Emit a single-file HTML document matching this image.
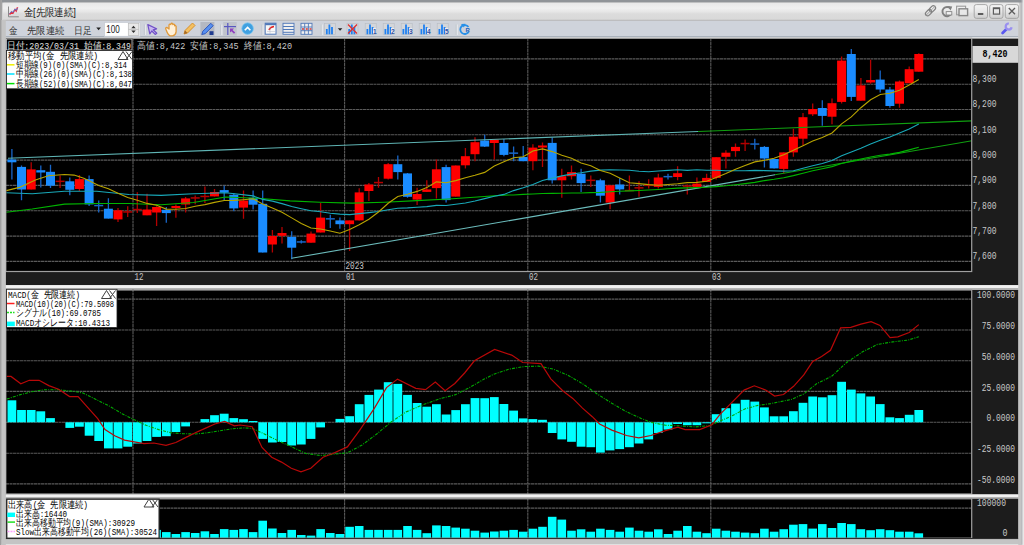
<!DOCTYPE html><html><head><meta charset="utf-8"><style>html,body{margin:0;padding:0;background:#c8c8c8;overflow:hidden}svg{display:block}</style></head><body>
<svg width="1024" height="545" viewBox="0 0 1024 545">
<defs><linearGradient id="tg" x1="0" y1="0" x2="0" y2="1"><stop offset="0" stop-color="#e8e8e8"/><stop offset="0.3" stop-color="#f0f0f0"/><stop offset="0.5" stop-color="#e6e6e6"/><stop offset="0.62" stop-color="#dcdcdc"/><stop offset="1" stop-color="#d8d8d8"/></linearGradient><linearGradient id="btn" x1="0" y1="0" x2="0" y2="1"><stop offset="0" stop-color="#f6f6f6"/><stop offset="0.5" stop-color="#e6e6e6"/><stop offset="1" stop-color="#cccccc"/></linearGradient><linearGradient id="sep" x1="0" y1="0" x2="0" y2="1"><stop offset="0" stop-color="#dcdcdc"/><stop offset="0.2" stop-color="#f2f2f2"/><stop offset="0.55" stop-color="#f0f0f0"/><stop offset="0.68" stop-color="#b4b4b4"/><stop offset="1" stop-color="#b0b0b0"/></linearGradient><clipPath id="mainclip"><rect x="6" y="38.5" width="965.5" height="232.5"/></clipPath><clipPath id="macdclip"><rect x="6" y="289" width="965.5" height="205"/></clipPath></defs>
<rect x="0" y="0" width="1024" height="545" fill="#c4c4c4"/>
<rect x="0" y="0" width="1024" height="2.5" fill="#909498"/>
<rect x="0" y="0" width="2" height="545" fill="#a8a8a8"/>
<rect x="2" y="2.5" width="1018" height="543" rx="2" fill="#d4d4d4"/>
<rect x="3" y="3" width="1016" height="17.5" fill="url(#tg)"/>
<line x1="3" y1="20.3" x2="1019" y2="20.3" stroke="#acacac" stroke-width="0.9"/>
<rect x="5.5" y="20.8" width="1013" height="16" fill="#cfd3db"/>
<rect x="5.5" y="36" width="1013" height="1.5" fill="#aab2bc"/>
<rect x="5.5" y="37.5" width="1013" height="1.1" fill="#f8f8f8"/>
<path d="M8.5,6.5 V16.8 H18.8" fill="none" stroke="#8a8a8a" stroke-width="1"/><polyline points="9.5,14.6 11.5,12.2 13,13 15,9.5 16.2,11 17.6,7.2" fill="none" stroke="#e83040" stroke-width="1.5"/><polyline points="9.5,13.6 11.5,11.4 13,12.4 15,9 16.4,10.2 17.6,8" fill="none" stroke="#4080e0" stroke-width="0.8"/><text x="23.5" y="15.8" font-family='"Liberation Sans", sans-serif' font-size="11" fill="#1a1a1a" textLength="52.5" lengthAdjust="spacingAndGlyphs">金[先限連続]</text><g transform="rotate(-45 930.5 10.8)" fill="none" stroke="#808080" stroke-width="1.2"><rect x="924.3" y="8.6" width="7" height="4.4" rx="2.2"/><rect x="929.7" y="8.6" width="7" height="4.4" rx="2.2"/></g><path d="M925.5,15.8 L935.5,5.8" stroke="#9a9a9a" stroke-width="0.9"/><path d="M950.6,8.6 A4.6,4.6 0 1 0 951.2,13.6" fill="none" stroke="#808080" stroke-width="1.9"/><path d="M947.6,6 l4.6,0.4 l-1.6,4 z" fill="#808080"/><rect x="946.2" y="11.6" width="5.6" height="3.4" fill="#f0f0f0" stroke="#888888" stroke-width="0.9"/><rect x="956.6" y="6.2" width="9" height="8.6" fill="none" stroke="#9a9a9a" stroke-width="1.1"/><rect x="959" y="8.8" width="8.6" height="6.8" fill="#e8e8e8" stroke="#888888" stroke-width="1.4"/><rect x="974.2" y="4.6" width="13.3" height="13.8" rx="2.2" fill="url(#btn)" stroke="#a0a0a0" stroke-width="0.9"/><rect x="989.7" y="4.6" width="13.3" height="13.8" rx="2.2" fill="url(#btn)" stroke="#a0a0a0" stroke-width="0.9"/><rect x="1005.3" y="4.6" width="13.3" height="13.8" rx="2.2" fill="url(#btn)" stroke="#a0a0a0" stroke-width="0.9"/><rect x="977.9" y="13" width="5.4" height="2" fill="#5c5c5c"/><rect x="993.4" y="7.9" width="6.2" height="6.2" fill="none" stroke="#5c5c5c" stroke-width="1.2"/><rect x="993.4" y="7.9" width="6.2" height="1.3" fill="#5c5c5c"/><path d="M1008.8,8 l6.2,6.2 M1015,8 l-6.2,6.2" stroke="#5c5c5c" stroke-width="1.3"/><text x="9" y="33.5" font-family='"Liberation Sans", sans-serif' font-size="10" fill="#303030" textLength="8.5" lengthAdjust="spacingAndGlyphs">金</text><text x="27" y="33.5" font-family='"Liberation Sans", sans-serif' font-size="10" fill="#303030" textLength="37" lengthAdjust="spacingAndGlyphs">先限連続</text><text x="74" y="33.5" font-family='"Liberation Sans", sans-serif' font-size="10" fill="#303030" textLength="17.5" lengthAdjust="spacingAndGlyphs">日足</text><path d="M96.3,27.6 h4.6 l-2.3,2.6 z" fill="#202020"/><rect x="104.5" y="22.5" width="35.5" height="13.8" fill="#ffffff" stroke="#c8ccd4" stroke-width="0.8"/><text x="106.3" y="33" font-family='"Liberation Sans", sans-serif' font-size="10.5" fill="#202020" textLength="13.5" lengthAdjust="spacingAndGlyphs">100</text><rect x="128.3" y="23.3" width="10.5" height="12.2" fill="#e8e8e8" stroke="#b8b8b8" stroke-width="0.7"/><line x1="128.3" y1="29.4" x2="138.8" y2="29.4" stroke="#b8b8b8" stroke-width="0.7"/><path d="M131.3,28.2 h4.4 l-2.2,-2.4 z M131.3,30.6 h4.4 l-2.2,2.4 z" fill="#303030"/><line x1="144.4" y1="24.5" x2="144.4" y2="35" stroke="#b8bcc4" stroke-width="0.8"/><line x1="145.3" y1="24.5" x2="145.3" y2="35" stroke="#f4f6f8" stroke-width="0.8"/><line x1="220.9" y1="24.5" x2="220.9" y2="35" stroke="#b8bcc4" stroke-width="0.8"/><line x1="221.8" y1="24.5" x2="221.8" y2="35" stroke="#f4f6f8" stroke-width="0.8"/><line x1="262.1" y1="24.5" x2="262.1" y2="35" stroke="#b8bcc4" stroke-width="0.8"/><line x1="263.0" y1="24.5" x2="263.0" y2="35" stroke="#f4f6f8" stroke-width="0.8"/><line x1="321.3" y1="24.5" x2="321.3" y2="35" stroke="#b8bcc4" stroke-width="0.8"/><line x1="322.2" y1="24.5" x2="322.2" y2="35" stroke="#f4f6f8" stroke-width="0.8"/><line x1="456.3" y1="24.5" x2="456.3" y2="35" stroke="#b8bcc4" stroke-width="0.8"/><line x1="457.2" y1="24.5" x2="457.2" y2="35" stroke="#f4f6f8" stroke-width="0.8"/><path d="M147.8,24.6 L156.6,28.8 L153.2,29.8 L156.8,33.2 L155.2,34.4 L151.8,31 L149.8,33.8 Z" fill="#c8b8f0" stroke="#7050c8" stroke-width="1.2" stroke-linejoin="round"/><path d="M166,29.5 q-1,-2 1,-2 l2,1.5 v-4 q0.5,-1.5 1.8,-0.5 v-0.5 q1,-1.5 2,0 v0.5 q1,-1 1.8,0.3 v1 q1,-0.8 1.5,0.5 v5.5 q-0.5,3.5 -3.5,4 h-2.5 q-2,-0.5 -4,-6 z" fill="#fff0d8" stroke="#e09838" stroke-width="1.3" stroke-linejoin="round"/><path d="M184,34 l1,-3.5 l7.5,-7.5 l2.5,2.5 l-7.5,7.5 z" fill="#f4c060" stroke="#d8902c" stroke-width="1"/><path d="M184,34 l1,-3.5 l2.5,2.5 z" fill="#a06828"/><rect x="200.4" y="22" width="14" height="13.6" fill="#b4b8c2"/><path d="M201.8,34.5 l1,-3.2 l8,-8 l2.4,2.4 l-8,8 z" fill="#5890f0" stroke="#2850b8" stroke-width="0.9"/><path d="M209.5,31.2 h4 v3.8 h-4 z" fill="#203c90"/><rect x="223.2" y="22" width="13.5" height="13.6" fill="#c0c4cc"/><line x1="227.8" y1="23" x2="227.8" y2="35" stroke="#5858c0" stroke-width="1.2"/><line x1="224" y1="26.6" x2="236" y2="26.6" stroke="#5858c0" stroke-width="1.2"/><path d="M230,28.6 h4 l-1.4,1.4 l2.6,2.6 l-1.2,1.2 l-2.6,-2.6 l-1.4,1.4 z" fill="#9040c0"/><circle cx="247.6" cy="28.6" r="5.8" fill="#40a0e0" stroke="#80c8f0" stroke-width="0.8"/><path d="M244.8,30.2 l2.8,-2.8 l2.8,2.8" fill="none" stroke="#ffffff" stroke-width="1.6"/><rect x="265.2" y="23.2" width="10.8" height="11" fill="#f8f8f8" stroke="#5078b8" stroke-width="1"/><rect x="265.2" y="23.2" width="10.8" height="2" fill="#5078b8"/><path d="M269,30 q1,-3 5,-3.5" fill="none" stroke="#e02020" stroke-width="1.5"/><g stroke="#b0b8c8" stroke-width="0.5"><line x1="267" y1="31.5" x2="275" y2="31.5"/><line x1="270" y1="26" x2="270" y2="34"/></g><rect x="283" y="23.3" width="11" height="11" fill="#f0f0f0" stroke="#5078b8" stroke-width="0.9"/><g stroke="#5078b8" stroke-width="1"><line x1="283" y1="26.5" x2="294" y2="26.5"/><line x1="283" y1="29.5" x2="294" y2="29.5"/><line x1="283" y1="32.3" x2="294" y2="32.3"/></g><rect x="301" y="23.3" width="11" height="11" fill="#f0f0f0" stroke="#5078b8" stroke-width="0.9"/><g stroke="#5078b8" stroke-width="0.9"><line x1="301" y1="27" x2="312" y2="27"/><line x1="301" y1="30.7" x2="312" y2="30.7"/><line x1="304.7" y1="23.3" x2="304.7" y2="34.3"/><line x1="308.4" y1="23.3" x2="308.4" y2="34.3"/></g><g fill="#d04040"><rect x="302" y="28.2" width="2" height="1.6"/><rect x="305.8" y="28.2" width="2" height="1.6"/><rect x="309.5" y="28.2" width="2" height="1.6"/></g><rect x="324.6" y="23.3" width="11" height="11.2" fill="#d4d6da" stroke="#b8bcc4" stroke-width="0.6"/><g fill="#2080f0"><rect x="325.9" y="29" width="1.8" height="5.3"/><rect x="328.5" y="24.5" width="1.8" height="9.8"/><rect x="331.1" y="27" width="1.8" height="7.3"/></g><path d="M337.8,28.2 h4.6 l-2.3,2.6 z" fill="#202020"/><rect x="347.0" y="23.3" width="11" height="11.2" fill="#d4d6da" stroke="#b8bcc4" stroke-width="0.6"/><g fill="#2080f0"><rect x="348.3" y="29" width="1.8" height="5.3"/><rect x="350.9" y="24.5" width="1.8" height="9.8"/><rect x="353.5" y="27" width="1.8" height="7.3"/></g><path d="M348.0,24.5 l9,9 M357.0,24.5 l-9,9" stroke="#e03030" stroke-width="1.3"/><rect x="365.2" y="23.3" width="11" height="11.2" fill="#d4d6da" stroke="#b8bcc4" stroke-width="0.6"/><g fill="#2080f0"><rect x="366.5" y="29" width="1.8" height="5.3"/><rect x="369.1" y="24.5" width="1.8" height="9.8"/><rect x="371.7" y="27" width="1.8" height="7.3"/></g><rect x="373.0" y="28" width="3.2" height="6" fill="#e8ecf4"/><text x="373.1" y="33.6" font-family='"Liberation Sans", sans-serif' font-size="6.5" font-weight="bold" fill="#3050a0">1</text><rect x="383.2" y="23.3" width="11" height="11.2" fill="#d4d6da" stroke="#b8bcc4" stroke-width="0.6"/><g fill="#2080f0"><rect x="384.5" y="29" width="1.8" height="5.3"/><rect x="387.1" y="24.5" width="1.8" height="9.8"/><rect x="389.7" y="27" width="1.8" height="7.3"/></g><rect x="391.0" y="28" width="3.2" height="6" fill="#e8ecf4"/><text x="391.1" y="33.6" font-family='"Liberation Sans", sans-serif' font-size="6.5" font-weight="bold" fill="#3050a0">2</text><rect x="401.2" y="23.3" width="11" height="11.2" fill="#d4d6da" stroke="#b8bcc4" stroke-width="0.6"/><g fill="#2080f0"><rect x="402.5" y="29" width="1.8" height="5.3"/><rect x="405.1" y="24.5" width="1.8" height="9.8"/><rect x="407.7" y="27" width="1.8" height="7.3"/></g><rect x="409.0" y="28" width="3.2" height="6" fill="#e8ecf4"/><text x="409.1" y="33.6" font-family='"Liberation Sans", sans-serif' font-size="6.5" font-weight="bold" fill="#3050a0">3</text><rect x="419.2" y="23.3" width="11" height="11.2" fill="#d4d6da" stroke="#b8bcc4" stroke-width="0.6"/><g fill="#2080f0"><rect x="420.5" y="29" width="1.8" height="5.3"/><rect x="423.1" y="24.5" width="1.8" height="9.8"/><rect x="425.7" y="27" width="1.8" height="7.3"/></g><rect x="427.0" y="28" width="3.2" height="6" fill="#e8ecf4"/><text x="427.1" y="33.6" font-family='"Liberation Sans", sans-serif' font-size="6.5" font-weight="bold" fill="#3050a0">4</text><rect x="437.2" y="23.3" width="11" height="11.2" fill="#d4d6da" stroke="#b8bcc4" stroke-width="0.6"/><g fill="#2080f0"><rect x="438.5" y="29" width="1.8" height="5.3"/><rect x="441.1" y="24.5" width="1.8" height="9.8"/><rect x="443.7" y="27" width="1.8" height="7.3"/></g><rect x="445.0" y="28" width="3.2" height="6" fill="#e8ecf4"/><text x="445.1" y="33.6" font-family='"Liberation Sans", sans-serif' font-size="6.5" font-weight="bold" fill="#3050a0">5</text><path d="M468.5,27 A4.5,4.5 0 1 0 468.8,31.5" fill="none" stroke="#2890e8" stroke-width="1.8"/><path d="M461,24 l4.5,-0.3 l-1.6,3.8 z" fill="#2890e8"/><text x="465.5" y="32" font-family='"Liberation Sans", sans-serif' font-size="6" font-weight="bold" fill="#2060c0">R</text><path d="M1002.6,33 L1006.6,29" stroke="#5a58f0" stroke-width="2.8" stroke-linecap="round"/><path d="M1011.6,27.2 A3,3 0 1 1 1008.9,23.5" fill="none" stroke="#9a90f0" stroke-width="2.2"/><circle cx="1008.5" cy="26.8" r="1.2" fill="#d8d4f8"/>
<rect x="5.5" y="38.6" width="1013" height="246.4" fill="#1c1c1c"/>
<rect x="6" y="38.6" width="965.5" height="232.4" fill="#000"/>
<line x1="6" y1="58.9" x2="971" y2="58.9" stroke="#5a5a5a" stroke-width="1.1" stroke-dasharray="3,0.5"/>
<line x1="6" y1="84.2" x2="971" y2="84.2" stroke="#5a5a5a" stroke-width="1.1" stroke-dasharray="3,0.5"/>
<line x1="6" y1="109.5" x2="971" y2="109.5" stroke="#5a5a5a" stroke-width="1.1" stroke-dasharray="3,0.5"/>
<line x1="6" y1="134.8" x2="971" y2="134.8" stroke="#5a5a5a" stroke-width="1.1" stroke-dasharray="3,0.5"/>
<line x1="6" y1="160.1" x2="971" y2="160.1" stroke="#5a5a5a" stroke-width="1.1" stroke-dasharray="3,0.5"/>
<line x1="6" y1="185.4" x2="971" y2="185.4" stroke="#5a5a5a" stroke-width="1.1" stroke-dasharray="3,0.5"/>
<line x1="6" y1="210.7" x2="971" y2="210.7" stroke="#5a5a5a" stroke-width="1.1" stroke-dasharray="3,0.5"/>
<line x1="6" y1="236.1" x2="971" y2="236.1" stroke="#5a5a5a" stroke-width="1.1" stroke-dasharray="3,0.5"/>
<line x1="6" y1="261.4" x2="971" y2="261.4" stroke="#5a5a5a" stroke-width="1.1" stroke-dasharray="3,0.5"/>
<line x1="133.0" y1="38.5" x2="133.0" y2="271" stroke="#5a5a5a" stroke-width="1.1" stroke-dasharray="3,0.5"/>
<line x1="344.6" y1="38.5" x2="344.6" y2="271" stroke="#5a5a5a" stroke-width="1.1" stroke-dasharray="3,0.5"/>
<line x1="527.8" y1="38.5" x2="527.8" y2="271" stroke="#5a5a5a" stroke-width="1.1" stroke-dasharray="3,0.5"/>
<line x1="710.8" y1="38.5" x2="710.8" y2="271" stroke="#5a5a5a" stroke-width="1.1" stroke-dasharray="3,0.5"/>
<g clip-path="url(#mainclip)">
<line x1="11.9" y1="149.0" x2="11.9" y2="179.6" stroke="#1866c8" stroke-width="1.3"/>
<rect x="7.4" y="159.5" width="9.0" height="2.8" fill="#1a8cff"/>
<line x1="21.5" y1="165.6" x2="21.5" y2="200.2" stroke="#1866c8" stroke-width="1.3"/>
<rect x="17.0" y="166.9" width="9.0" height="22.6" fill="#1a8cff"/>
<line x1="31.2" y1="162.3" x2="31.2" y2="189.5" stroke="#b40000" stroke-width="1.3"/>
<rect x="26.7" y="169.4" width="9.0" height="20.1" fill="#ff0000"/>
<line x1="40.8" y1="165.6" x2="40.8" y2="187.5" stroke="#1866c8" stroke-width="1.3"/>
<rect x="36.3" y="170.2" width="9.0" height="2.3" fill="#1a8cff"/>
<line x1="50.5" y1="164.8" x2="50.5" y2="187.9" stroke="#1866c8" stroke-width="1.3"/>
<rect x="46.0" y="171.8" width="9.0" height="13.9" fill="#1a8cff"/>
<line x1="60.1" y1="175.5" x2="60.1" y2="187.9" stroke="#b40000" stroke-width="1.3"/>
<rect x="55.6" y="180.6" width="9.0" height="1.5" fill="#b40000"/>
<line x1="69.8" y1="177.6" x2="69.8" y2="195.3" stroke="#1866c8" stroke-width="1.3"/>
<rect x="65.3" y="181.3" width="9.0" height="8.5" fill="#1a8cff"/>
<line x1="79.4" y1="175.0" x2="79.4" y2="191.0" stroke="#b40000" stroke-width="1.3"/>
<rect x="74.9" y="179.1" width="9.0" height="9.9" fill="#ff0000"/>
<line x1="89.1" y1="175.5" x2="89.1" y2="206.0" stroke="#1866c8" stroke-width="1.3"/>
<rect x="84.6" y="179.1" width="9.0" height="25.3" fill="#1a8cff"/>
<line x1="98.7" y1="200.4" x2="98.7" y2="212.5" stroke="#1866c8" stroke-width="1.3"/>
<rect x="94.2" y="204.8" width="9.0" height="1.5" fill="#1866c8"/>
<line x1="108.4" y1="198.3" x2="108.4" y2="218.6" stroke="#1866c8" stroke-width="1.3"/>
<rect x="103.9" y="208.7" width="9.0" height="9.9" fill="#1a8cff"/>
<line x1="118.0" y1="207.9" x2="118.0" y2="221.9" stroke="#b40000" stroke-width="1.3"/>
<rect x="113.5" y="210.3" width="9.0" height="9.1" fill="#ff0000"/>
<line x1="127.7" y1="206.2" x2="127.7" y2="217.0" stroke="#b40000" stroke-width="1.3"/>
<rect x="123.2" y="211.2" width="9.0" height="1.5" fill="#b40000"/>
<line x1="137.3" y1="192.2" x2="137.3" y2="213.1" stroke="#b40000" stroke-width="1.3"/>
<rect x="132.8" y="208.8" width="9.0" height="1.5" fill="#b40000"/>
<line x1="147.0" y1="193.8" x2="147.0" y2="215.3" stroke="#b40000" stroke-width="1.3"/>
<rect x="142.5" y="209.5" width="9.0" height="5.8" fill="#ff0000"/>
<line x1="156.6" y1="206.2" x2="156.6" y2="226.0" stroke="#b40000" stroke-width="1.3"/>
<rect x="152.1" y="207.0" width="9.0" height="5.5" fill="#ff0000"/>
<line x1="166.3" y1="207.0" x2="166.3" y2="222.7" stroke="#1866c8" stroke-width="1.3"/>
<rect x="161.8" y="209.8" width="9.0" height="3.3" fill="#1a8cff"/>
<line x1="175.9" y1="204.6" x2="175.9" y2="217.8" stroke="#b40000" stroke-width="1.3"/>
<rect x="171.4" y="206.0" width="9.0" height="2.0" fill="#ff0000"/>
<line x1="185.6" y1="197.1" x2="185.6" y2="212.5" stroke="#b40000" stroke-width="1.3"/>
<rect x="181.1" y="198.4" width="9.0" height="6.1" fill="#ff0000"/>
<line x1="195.2" y1="195.6" x2="195.2" y2="204.3" stroke="#b40000" stroke-width="1.3"/>
<rect x="190.7" y="197.2" width="9.0" height="1.5" fill="#b40000"/>
<line x1="204.9" y1="186.5" x2="204.9" y2="203.0" stroke="#b40000" stroke-width="1.3"/>
<rect x="200.4" y="195.7" width="9.0" height="1.5" fill="#b40000"/>
<line x1="214.5" y1="189.0" x2="214.5" y2="196.4" stroke="#b40000" stroke-width="1.3"/>
<rect x="210.0" y="192.0" width="9.0" height="4.4" fill="#ff0000"/>
<line x1="224.2" y1="185.7" x2="224.2" y2="200.5" stroke="#1866c8" stroke-width="1.3"/>
<rect x="219.7" y="190.1" width="9.0" height="2.5" fill="#1a8cff"/>
<line x1="233.8" y1="193.1" x2="233.8" y2="211.3" stroke="#1866c8" stroke-width="1.3"/>
<rect x="229.3" y="194.8" width="9.0" height="13.6" fill="#1a8cff"/>
<line x1="243.5" y1="190.6" x2="243.5" y2="218.7" stroke="#b40000" stroke-width="1.3"/>
<rect x="239.0" y="200.5" width="9.0" height="7.1" fill="#ff0000"/>
<line x1="253.1" y1="190.6" x2="253.1" y2="209.6" stroke="#1866c8" stroke-width="1.3"/>
<rect x="248.6" y="197.7" width="9.0" height="7.0" fill="#1a8cff"/>
<line x1="262.7" y1="190.6" x2="262.7" y2="252.5" stroke="#1866c8" stroke-width="1.3"/>
<rect x="258.2" y="203.8" width="9.0" height="48.7" fill="#1a8cff"/>
<line x1="272.4" y1="230.0" x2="272.4" y2="252.5" stroke="#b40000" stroke-width="1.3"/>
<rect x="267.9" y="236.0" width="9.0" height="8.5" fill="#ff0000"/>
<line x1="282.0" y1="227.0" x2="282.0" y2="243.5" stroke="#b40000" stroke-width="1.3"/>
<rect x="277.5" y="233.0" width="9.0" height="2.8" fill="#ff0000"/>
<line x1="291.7" y1="231.2" x2="291.7" y2="259.2" stroke="#1866c8" stroke-width="1.3"/>
<rect x="287.2" y="236.9" width="9.0" height="10.8" fill="#1a8cff"/>
<line x1="301.3" y1="240.2" x2="301.3" y2="243.5" stroke="#1866c8" stroke-width="1.3"/>
<rect x="296.8" y="241.2" width="9.0" height="1.5" fill="#1866c8"/>
<line x1="311.0" y1="231.5" x2="311.0" y2="242.7" stroke="#b40000" stroke-width="1.3"/>
<rect x="306.5" y="233.6" width="9.0" height="9.1" fill="#ff0000"/>
<line x1="320.6" y1="203.1" x2="320.6" y2="232.5" stroke="#b40000" stroke-width="1.3"/>
<rect x="316.1" y="217.6" width="9.0" height="14.9" fill="#ff0000"/>
<line x1="330.3" y1="214.7" x2="330.3" y2="227.9" stroke="#1866c8" stroke-width="1.3"/>
<rect x="325.8" y="218.1" width="9.0" height="1.5" fill="#1866c8"/>
<line x1="339.9" y1="217.6" x2="339.9" y2="228.7" stroke="#1866c8" stroke-width="1.3"/>
<rect x="335.4" y="220.4" width="9.0" height="3.8" fill="#1a8cff"/>
<line x1="349.6" y1="220.4" x2="349.6" y2="251.0" stroke="#b40000" stroke-width="1.3"/>
<rect x="345.1" y="220.4" width="9.0" height="3.8" fill="#ff0000"/>
<line x1="359.2" y1="188.3" x2="359.2" y2="220.4" stroke="#b40000" stroke-width="1.3"/>
<rect x="354.7" y="192.4" width="9.0" height="28.0" fill="#ff0000"/>
<line x1="368.9" y1="183.1" x2="368.9" y2="201.0" stroke="#b40000" stroke-width="1.3"/>
<rect x="364.4" y="184.5" width="9.0" height="6.5" fill="#ff0000"/>
<line x1="378.5" y1="177.0" x2="378.5" y2="187.8" stroke="#b40000" stroke-width="1.3"/>
<rect x="374.0" y="181.8" width="9.0" height="1.5" fill="#b40000"/>
<line x1="388.2" y1="163.0" x2="388.2" y2="179.5" stroke="#b40000" stroke-width="1.3"/>
<rect x="383.7" y="164.2" width="9.0" height="14.5" fill="#ff0000"/>
<line x1="397.8" y1="155.6" x2="397.8" y2="179.5" stroke="#1866c8" stroke-width="1.3"/>
<rect x="393.3" y="164.2" width="9.0" height="7.9" fill="#1a8cff"/>
<line x1="407.5" y1="172.9" x2="407.5" y2="197.7" stroke="#1866c8" stroke-width="1.3"/>
<rect x="403.0" y="173.4" width="9.0" height="23.4" fill="#1a8cff"/>
<line x1="417.1" y1="187.8" x2="417.1" y2="205.1" stroke="#b40000" stroke-width="1.3"/>
<rect x="412.6" y="194.0" width="9.0" height="5.6" fill="#ff0000"/>
<line x1="426.8" y1="180.3" x2="426.8" y2="191.9" stroke="#b40000" stroke-width="1.3"/>
<rect x="422.3" y="189.4" width="9.0" height="2.5" fill="#ff0000"/>
<line x1="436.4" y1="159.4" x2="436.4" y2="198.5" stroke="#b40000" stroke-width="1.3"/>
<rect x="431.9" y="169.3" width="9.0" height="18.8" fill="#ff0000"/>
<line x1="446.1" y1="164.7" x2="446.1" y2="202.6" stroke="#1866c8" stroke-width="1.3"/>
<rect x="441.6" y="167.1" width="9.0" height="33.0" fill="#1a8cff"/>
<line x1="455.7" y1="165.5" x2="455.7" y2="196.6" stroke="#b40000" stroke-width="1.3"/>
<rect x="451.2" y="165.5" width="9.0" height="31.1" fill="#ff0000"/>
<line x1="465.4" y1="148.0" x2="465.4" y2="168.6" stroke="#b40000" stroke-width="1.3"/>
<rect x="460.9" y="156.2" width="9.0" height="9.1" fill="#ff0000"/>
<line x1="475.0" y1="137.2" x2="475.0" y2="161.2" stroke="#b40000" stroke-width="1.3"/>
<rect x="470.5" y="142.2" width="9.0" height="12.0" fill="#ff0000"/>
<line x1="484.7" y1="134.8" x2="484.7" y2="147.1" stroke="#1866c8" stroke-width="1.3"/>
<rect x="480.2" y="140.5" width="9.0" height="6.1" fill="#1a8cff"/>
<line x1="494.3" y1="139.7" x2="494.3" y2="159.5" stroke="#b40000" stroke-width="1.3"/>
<rect x="489.8" y="139.7" width="9.0" height="3.3" fill="#ff0000"/>
<line x1="503.9" y1="138.9" x2="503.9" y2="156.2" stroke="#1866c8" stroke-width="1.3"/>
<rect x="499.4" y="143.0" width="9.0" height="11.9" fill="#1a8cff"/>
<line x1="513.6" y1="146.6" x2="513.6" y2="161.2" stroke="#1866c8" stroke-width="1.3"/>
<rect x="509.1" y="152.4" width="9.0" height="1.5" fill="#1866c8"/>
<line x1="523.2" y1="146.0" x2="523.2" y2="161.2" stroke="#1866c8" stroke-width="1.3"/>
<rect x="518.7" y="157.0" width="9.0" height="4.2" fill="#1a8cff"/>
<line x1="532.9" y1="144.3" x2="532.9" y2="170.2" stroke="#b40000" stroke-width="1.3"/>
<rect x="528.4" y="147.6" width="9.0" height="13.6" fill="#ff0000"/>
<line x1="542.5" y1="142.4" x2="542.5" y2="167.1" stroke="#b40000" stroke-width="1.3"/>
<rect x="538.0" y="145.5" width="9.0" height="2.0" fill="#ff0000"/>
<line x1="552.2" y1="137.4" x2="552.2" y2="183.6" stroke="#1866c8" stroke-width="1.3"/>
<rect x="547.7" y="142.9" width="9.0" height="37.4" fill="#1a8cff"/>
<line x1="561.8" y1="168.8" x2="561.8" y2="197.7" stroke="#b40000" stroke-width="1.3"/>
<rect x="557.3" y="176.2" width="9.0" height="4.1" fill="#ff0000"/>
<line x1="571.5" y1="165.5" x2="571.5" y2="179.5" stroke="#b40000" stroke-width="1.3"/>
<rect x="567.0" y="172.1" width="9.0" height="4.1" fill="#ff0000"/>
<line x1="581.1" y1="168.8" x2="581.1" y2="191.9" stroke="#1866c8" stroke-width="1.3"/>
<rect x="576.6" y="173.7" width="9.0" height="9.4" fill="#1a8cff"/>
<line x1="590.8" y1="175.4" x2="590.8" y2="186.9" stroke="#b40000" stroke-width="1.3"/>
<rect x="586.3" y="179.6" width="9.0" height="1.5" fill="#b40000"/>
<line x1="600.4" y1="178.7" x2="600.4" y2="202.6" stroke="#1866c8" stroke-width="1.3"/>
<rect x="595.9" y="180.3" width="9.0" height="15.4" fill="#1a8cff"/>
<line x1="610.1" y1="185.3" x2="610.1" y2="209.2" stroke="#b40000" stroke-width="1.3"/>
<rect x="605.6" y="185.3" width="9.0" height="17.3" fill="#ff0000"/>
<line x1="619.7" y1="177.9" x2="619.7" y2="194.4" stroke="#1866c8" stroke-width="1.3"/>
<rect x="615.2" y="184.5" width="9.0" height="4.9" fill="#1a8cff"/>
<line x1="629.4" y1="175.4" x2="629.4" y2="190.7" stroke="#b40000" stroke-width="1.3"/>
<rect x="624.9" y="189.8" width="9.0" height="1.5" fill="#b40000"/>
<line x1="639.0" y1="181.2" x2="639.0" y2="196.8" stroke="#b40000" stroke-width="1.3"/>
<rect x="634.5" y="187.1" width="9.0" height="1.5" fill="#b40000"/>
<line x1="648.7" y1="179.2" x2="648.7" y2="188.6" stroke="#b40000" stroke-width="1.3"/>
<rect x="644.2" y="184.6" width="9.0" height="1.5" fill="#b40000"/>
<line x1="658.3" y1="173.7" x2="658.3" y2="188.6" stroke="#b40000" stroke-width="1.3"/>
<rect x="653.8" y="177.5" width="9.0" height="9.4" fill="#ff0000"/>
<line x1="668.0" y1="173.7" x2="668.0" y2="179.5" stroke="#1866c8" stroke-width="1.3"/>
<rect x="663.5" y="175.9" width="9.0" height="1.5" fill="#1866c8"/>
<line x1="677.6" y1="166.3" x2="677.6" y2="180.3" stroke="#b40000" stroke-width="1.3"/>
<rect x="673.1" y="173.2" width="9.0" height="3.8" fill="#ff0000"/>
<line x1="687.3" y1="184.5" x2="687.3" y2="194.4" stroke="#b40000" stroke-width="1.3"/>
<rect x="682.8" y="185.3" width="9.0" height="1.5" fill="#b40000"/>
<line x1="696.9" y1="177.5" x2="696.9" y2="186.9" stroke="#b40000" stroke-width="1.3"/>
<rect x="692.4" y="183.6" width="9.0" height="3.3" fill="#ff0000"/>
<line x1="706.6" y1="173.7" x2="706.6" y2="182.0" stroke="#b40000" stroke-width="1.3"/>
<rect x="702.1" y="177.9" width="9.0" height="4.1" fill="#ff0000"/>
<line x1="716.2" y1="157.2" x2="716.2" y2="179.5" stroke="#b40000" stroke-width="1.3"/>
<rect x="711.7" y="157.2" width="9.0" height="20.7" fill="#ff0000"/>
<line x1="725.9" y1="150.2" x2="725.9" y2="168.4" stroke="#b40000" stroke-width="1.3"/>
<rect x="721.4" y="152.7" width="9.0" height="4.1" fill="#ff0000"/>
<line x1="735.5" y1="143.6" x2="735.5" y2="156.8" stroke="#b40000" stroke-width="1.3"/>
<rect x="731.0" y="146.9" width="9.0" height="4.2" fill="#ff0000"/>
<line x1="745.1" y1="139.5" x2="745.1" y2="151.1" stroke="#b40000" stroke-width="1.3"/>
<rect x="740.6" y="142.8" width="9.0" height="1.5" fill="#b40000"/>
<line x1="754.8" y1="138.7" x2="754.8" y2="149.4" stroke="#1866c8" stroke-width="1.3"/>
<rect x="750.3" y="143.3" width="9.0" height="1.5" fill="#1866c8"/>
<line x1="764.4" y1="146.1" x2="764.4" y2="167.6" stroke="#1866c8" stroke-width="1.3"/>
<rect x="759.9" y="146.9" width="9.0" height="11.6" fill="#1a8cff"/>
<line x1="774.1" y1="159.0" x2="774.1" y2="168.4" stroke="#1866c8" stroke-width="1.3"/>
<rect x="769.6" y="159.0" width="9.0" height="9.4" fill="#1a8cff"/>
<line x1="783.7" y1="152.4" x2="783.7" y2="173.3" stroke="#b40000" stroke-width="1.3"/>
<rect x="779.2" y="152.4" width="9.0" height="16.5" fill="#ff0000"/>
<line x1="793.4" y1="128.8" x2="793.4" y2="156.8" stroke="#b40000" stroke-width="1.3"/>
<rect x="788.9" y="136.7" width="9.0" height="15.7" fill="#ff0000"/>
<line x1="803.0" y1="113.1" x2="803.0" y2="145.3" stroke="#b40000" stroke-width="1.3"/>
<rect x="798.5" y="117.2" width="9.0" height="21.5" fill="#ff0000"/>
<line x1="812.7" y1="103.5" x2="812.7" y2="115.9" stroke="#b40000" stroke-width="1.3"/>
<rect x="808.2" y="109.0" width="9.0" height="5.3" fill="#ff0000"/>
<line x1="822.3" y1="100.2" x2="822.3" y2="125.8" stroke="#1866c8" stroke-width="1.3"/>
<rect x="817.8" y="108.0" width="9.0" height="7.9" fill="#1a8cff"/>
<line x1="832.0" y1="98.6" x2="832.0" y2="124.2" stroke="#b40000" stroke-width="1.3"/>
<rect x="827.5" y="103.2" width="9.0" height="13.5" fill="#ff0000"/>
<line x1="841.6" y1="56.5" x2="841.6" y2="103.5" stroke="#b40000" stroke-width="1.3"/>
<rect x="837.1" y="60.6" width="9.0" height="41.3" fill="#ff0000"/>
<line x1="851.3" y1="49.1" x2="851.3" y2="101.1" stroke="#1866c8" stroke-width="1.3"/>
<rect x="846.8" y="54.0" width="9.0" height="42.9" fill="#1a8cff"/>
<line x1="860.9" y1="78.0" x2="860.9" y2="100.7" stroke="#b40000" stroke-width="1.3"/>
<rect x="856.4" y="85.4" width="9.0" height="15.3" fill="#ff0000"/>
<line x1="870.6" y1="59.8" x2="870.6" y2="83.7" stroke="#b40000" stroke-width="1.3"/>
<rect x="866.1" y="80.0" width="9.0" height="2.5" fill="#ff0000"/>
<line x1="880.2" y1="70.5" x2="880.2" y2="92.5" stroke="#1866c8" stroke-width="1.3"/>
<rect x="875.7" y="79.6" width="9.0" height="9.9" fill="#1a8cff"/>
<line x1="889.9" y1="87.0" x2="889.9" y2="107.7" stroke="#1866c8" stroke-width="1.3"/>
<rect x="885.4" y="89.5" width="9.0" height="16.5" fill="#1a8cff"/>
<line x1="899.5" y1="80.4" x2="899.5" y2="107.7" stroke="#b40000" stroke-width="1.3"/>
<rect x="895.0" y="81.5" width="9.0" height="22.2" fill="#ff0000"/>
<line x1="909.2" y1="66.4" x2="909.2" y2="83.2" stroke="#b40000" stroke-width="1.3"/>
<rect x="904.7" y="69.2" width="9.0" height="14.0" fill="#ff0000"/>
<line x1="918.8" y1="53.2" x2="918.8" y2="71.7" stroke="#b40000" stroke-width="1.3"/>
<rect x="914.3" y="54.0" width="9.0" height="17.7" fill="#ff0000"/>
<polyline points="8,158.2 698,131.5" fill="none" stroke="#5fb4b4" stroke-width="1.1"/>
<polyline points="698,131.5 972,120.9" fill="none" stroke="#10a010" stroke-width="1.1"/>
<polyline points="291.5,258.3 775,174.7" fill="none" stroke="#6cbcbc" stroke-width="1.1"/>
<polyline points="775,174.7 972,140.7" fill="none" stroke="#10a010" stroke-width="1.1"/>
<polyline points="6.4,212.2 32.2,209.0 64.5,204.1 96.7,203.5 128.9,203.5 161.1,204.8 193.4,202.5 225.6,197.0 257.8,198.3 290.0,200.9 320.0,202.2 352.2,203.1 384.5,202.2 416.7,200.6 448.9,199.0 481.1,196.7 503.9,195.1 513.6,195.0 523.2,194.4 532.9,194.0 542.5,193.5 552.2,193.4 561.8,193.3 571.5,193.0 581.1,193.0 590.8,192.6 600.4,192.4 610.1,191.7 619.7,191.3 629.4,190.9 639.0,190.5 648.7,190.0 658.3,189.5 668.0,188.8 677.6,188.1 687.3,187.9 696.9,187.6 706.6,187.3 716.2,186.6 725.9,185.8 735.5,184.7 745.1,183.6 754.8,182.4 764.4,180.6 774.1,179.3 783.7,177.7 793.4,175.6 803.0,173.2 812.7,170.8 822.3,168.8 832.0,166.6 841.6,163.5 851.3,161.1 860.9,159.0 870.6,157.0 880.2,155.3 889.9,154.1 899.5,152.4 909.2,149.9 918.8,147.2" fill="none" stroke="#00b400" stroke-width="1.1"/>
<polyline points="6.4,192.8 32.2,193.8 64.5,191.2 96.7,191.2 128.9,194.5 161.1,195.4 193.4,193.8 225.6,192.8 253.1,195.9 262.7,199.4 272.4,201.1 282.0,203.6 291.7,206.5 301.3,208.7 311.0,210.7 320.6,211.8 330.3,213.3 339.9,214.1 349.6,214.6 359.2,213.6 368.9,212.6 378.5,211.5 388.2,209.8 397.8,208.3 407.5,207.9 417.1,207.2 426.8,206.6 436.4,205.4 446.1,205.5 455.7,204.3 465.4,203.0 475.0,201.0 484.7,198.6 494.3,196.3 503.9,194.4 513.6,190.6 523.2,187.7 532.9,184.4 542.5,180.5 552.2,178.1 561.8,175.9 571.5,174.1 581.1,172.8 590.8,171.1 600.4,170.1 610.1,169.8 619.7,170.0 629.4,170.3 639.0,171.3 648.7,171.8 658.3,171.0 668.0,170.4 677.6,169.7 687.3,170.4 696.9,169.7 706.6,170.2 716.2,170.3 725.9,170.7 735.5,170.7 745.1,170.8 754.8,170.4 764.4,170.6 774.1,170.9 783.7,171.1 793.4,170.7 803.0,168.3 812.7,165.7 822.3,163.5 832.0,160.5 841.6,155.8 851.3,152.0 860.9,148.2 870.6,144.0 880.2,140.2 889.9,137.0 899.5,133.0 909.2,128.9 918.8,124.1" fill="none" stroke="#18a8b8" stroke-width="1.1"/>
<polyline points="6.4,190.6 19.3,187.4 35.4,180.0 48.3,175.8 64.5,174.5 74.1,175.1 83.8,178.3 89.1,180.7 98.7,185.5 108.4,188.7 118.0,193.2 127.7,197.6 137.3,200.3 147.0,203.4 156.6,205.3 166.3,209.1 175.9,209.3 185.6,208.5 195.2,206.2 204.9,204.6 214.5,202.4 224.2,200.5 233.8,200.4 243.5,199.7 253.1,198.8 262.7,203.9 272.4,208.1 282.0,212.2 291.7,217.9 301.3,223.4 311.0,228.0 320.6,229.0 330.3,231.0 339.9,233.2 349.6,229.6 359.2,224.8 368.9,219.2 378.5,212.0 388.2,203.3 397.8,196.5 407.5,194.2 417.1,191.4 426.8,187.6 436.4,181.9 446.1,182.8 455.7,180.6 465.4,177.7 475.0,175.3 484.7,172.4 494.3,166.1 503.9,161.8 513.6,157.7 523.2,156.8 532.9,151.0 542.5,148.9 552.2,151.6 561.8,155.3 571.5,158.2 581.1,163.0 590.8,165.8 600.4,170.5 610.1,173.2 619.7,177.9 629.4,182.8 639.0,183.6 648.7,184.6 658.3,185.2 668.0,184.5 677.6,183.7 687.3,182.6 696.9,182.4 706.6,181.2 716.2,177.5 725.9,173.6 735.5,169.3 745.1,165.5 754.8,161.9 764.4,160.3 774.1,158.3 783.7,154.8 793.4,150.3 803.0,145.8 812.7,141.0 822.3,137.5 832.0,133.0 841.6,123.8 851.3,116.9 860.9,107.7 870.6,99.8 880.2,94.5 889.9,93.3 899.5,90.2 909.2,85.0 918.8,79.6" fill="none" stroke="#b8a400" stroke-width="1.1"/>
</g>
<rect x="5.8" y="38.3" width="965.9" height="233.2" fill="none" stroke="#a0a0a0" stroke-width="1.2"/>
<text x="345.5" y="268.9" font-family='"Liberation Mono", monospace' font-size="10.6" fill="#c8c8c8" text-anchor="start" font-weight="normal" textLength="18.5" lengthAdjust="spacingAndGlyphs">2023</text>
<text x="134.5" y="280.4" font-family='"Liberation Mono", monospace' font-size="10.6" fill="#c8c8c8" text-anchor="start" font-weight="normal" textLength="9.0" lengthAdjust="spacingAndGlyphs">12</text>
<text x="346.0" y="280.4" font-family='"Liberation Mono", monospace' font-size="10.6" fill="#c8c8c8" text-anchor="start" font-weight="normal" textLength="9.0" lengthAdjust="spacingAndGlyphs">01</text>
<text x="529.0" y="280.4" font-family='"Liberation Mono", monospace' font-size="10.6" fill="#c8c8c8" text-anchor="start" font-weight="normal" textLength="9.0" lengthAdjust="spacingAndGlyphs">02</text>
<text x="712.0" y="280.4" font-family='"Liberation Mono", monospace' font-size="10.6" fill="#c8c8c8" text-anchor="start" font-weight="normal" textLength="9.0" lengthAdjust="spacingAndGlyphs">03</text>
<text x="972.5" y="82.0" font-family='"Liberation Mono", monospace' font-size="10.6" fill="#c8c8c8" text-anchor="start" font-weight="normal" textLength="24.0" lengthAdjust="spacingAndGlyphs">8,300</text>
<text x="972.5" y="107.3" font-family='"Liberation Mono", monospace' font-size="10.6" fill="#c8c8c8" text-anchor="start" font-weight="normal" textLength="24.0" lengthAdjust="spacingAndGlyphs">8,200</text>
<text x="972.5" y="132.6" font-family='"Liberation Mono", monospace' font-size="10.6" fill="#c8c8c8" text-anchor="start" font-weight="normal" textLength="24.0" lengthAdjust="spacingAndGlyphs">8,100</text>
<text x="972.5" y="157.9" font-family='"Liberation Mono", monospace' font-size="10.6" fill="#c8c8c8" text-anchor="start" font-weight="normal" textLength="24.0" lengthAdjust="spacingAndGlyphs">8,000</text>
<text x="972.5" y="183.2" font-family='"Liberation Mono", monospace' font-size="10.6" fill="#c8c8c8" text-anchor="start" font-weight="normal" textLength="24.0" lengthAdjust="spacingAndGlyphs">7,900</text>
<text x="972.5" y="208.5" font-family='"Liberation Mono", monospace' font-size="10.6" fill="#c8c8c8" text-anchor="start" font-weight="normal" textLength="24.0" lengthAdjust="spacingAndGlyphs">7,800</text>
<text x="972.5" y="233.9" font-family='"Liberation Mono", monospace' font-size="10.6" fill="#c8c8c8" text-anchor="start" font-weight="normal" textLength="24.0" lengthAdjust="spacingAndGlyphs">7,700</text>
<text x="972.5" y="259.2" font-family='"Liberation Mono", monospace' font-size="10.6" fill="#c8c8c8" text-anchor="start" font-weight="normal" textLength="24.0" lengthAdjust="spacingAndGlyphs">7,600</text>
<rect x="972.5" y="46" width="46" height="16.8" fill="#d8d8d8"/>
<text x="995.0" y="56.8" font-family='"Liberation Mono", monospace' font-size="10.8" fill="#000" text-anchor="middle" font-weight="bold" textLength="25.0" lengthAdjust="spacingAndGlyphs">8,420</text>
<rect x="6" y="38.5" width="126.5" height="11.5" fill="#000"/>
<rect x="6.5" y="39" width="125.5" height="11" fill="none" stroke="#d0d0d0" stroke-width="0.8"/>
<text x="7.0" y="48.6" font-family='"Liberation Mono", monospace' font-size="9.6" fill="#e0e0e0" text-anchor="start" font-weight="normal" textLength="124.0" lengthAdjust="spacingAndGlyphs">日付:2023/03/31 始値:8,349</text>
<text x="137.0" y="48.6" font-family='"Liberation Mono", monospace' font-size="9.6" fill="#c8c8c8" text-anchor="start" font-weight="normal" textLength="155.0" lengthAdjust="spacingAndGlyphs">高値:8,422 安値:8,345 終値:8,420</text>
<rect x="6.5" y="50.5" width="126" height="38.3" fill="#ffffff" stroke="#202020" stroke-width="0.8"/>
<text x="8.0" y="58.6" font-family='"Liberation Mono", monospace' font-size="9.6" fill="#000" text-anchor="start" font-weight="normal" textLength="90.0" lengthAdjust="spacingAndGlyphs">移動平均(金 先限連続)</text>
<text x="16.0" y="68.1" font-family='"Liberation Mono", monospace' font-size="9.6" fill="#000" text-anchor="start" font-weight="normal" textLength="111.0" lengthAdjust="spacingAndGlyphs">短期線(9)(0)(SMA)(C):8,314</text>
<text x="16.0" y="77.4" font-family='"Liberation Mono", monospace' font-size="9.6" fill="#000" text-anchor="start" font-weight="normal" textLength="116.0" lengthAdjust="spacingAndGlyphs">中期線(26)(0)(SMA)(C):8,138</text>
<text x="16.0" y="86.9" font-family='"Liberation Mono", monospace' font-size="9.6" fill="#000" text-anchor="start" font-weight="normal" textLength="116.0" lengthAdjust="spacingAndGlyphs">長期線(52)(0)(SMA)(C):8,047</text>
<line x1="7" y1="64.8" x2="14.5" y2="64.8" stroke="#f0f000" stroke-width="1.5"/>
<line x1="7" y1="74" x2="14.5" y2="74" stroke="#00e0ff" stroke-width="1.5"/>
<line x1="7" y1="83.6" x2="14.5" y2="83.6" stroke="#00e000" stroke-width="1.5"/>
<path d="M118.0,59.5 l5,-8 l5,8 z" fill="none" stroke="#404040" stroke-width="1"/><path d="M126.0,59.5 l6,-8 M126.0,51.5 l6,8" fill="none" stroke="#404040" stroke-width="1"/>
<rect x="5.5" y="285" width="1013" height="5" fill="url(#sep)"/>
<rect x="5.5" y="290" width="1013" height="204.5" fill="#1c1c1c"/>
<rect x="6" y="290" width="965.5" height="204" fill="#000"/>
<line x1="6" y1="299.1" x2="971" y2="299.1" stroke="#5a5a5a" stroke-width="1.1" stroke-dasharray="3,0.5"/>
<line x1="6" y1="330.0" x2="971" y2="330.0" stroke="#5a5a5a" stroke-width="1.1" stroke-dasharray="3,0.5"/>
<line x1="6" y1="360.7" x2="971" y2="360.7" stroke="#5a5a5a" stroke-width="1.1" stroke-dasharray="3,0.5"/>
<line x1="6" y1="391.4" x2="971" y2="391.4" stroke="#5a5a5a" stroke-width="1.1" stroke-dasharray="3,0.5"/>
<line x1="6" y1="422.3" x2="971" y2="422.3" stroke="#5a5a5a" stroke-width="1.1" stroke-dasharray="3,0.5"/>
<line x1="6" y1="453.2" x2="971" y2="453.2" stroke="#5a5a5a" stroke-width="1.1" stroke-dasharray="3,0.5"/>
<line x1="6" y1="483.9" x2="971" y2="483.9" stroke="#5a5a5a" stroke-width="1.1" stroke-dasharray="3,0.5"/>
<line x1="133.0" y1="289" x2="133.0" y2="494" stroke="#5a5a5a" stroke-width="1.1" stroke-dasharray="3,0.5"/>
<line x1="344.6" y1="289" x2="344.6" y2="494" stroke="#5a5a5a" stroke-width="1.1" stroke-dasharray="3,0.5"/>
<line x1="527.8" y1="289" x2="527.8" y2="494" stroke="#5a5a5a" stroke-width="1.1" stroke-dasharray="3,0.5"/>
<line x1="710.8" y1="289" x2="710.8" y2="494" stroke="#5a5a5a" stroke-width="1.1" stroke-dasharray="3,0.5"/>
<g clip-path="url(#macdclip)">
<rect x="7.5" y="400.3" width="8.8" height="22.0" fill="#00ffff"/>
<rect x="17.1" y="410.0" width="8.8" height="12.3" fill="#00ffff"/>
<rect x="26.8" y="410.0" width="8.8" height="12.3" fill="#00ffff"/>
<rect x="36.4" y="411.3" width="8.8" height="11.0" fill="#00ffff"/>
<rect x="46.1" y="418.1" width="8.8" height="4.2" fill="#00ffff"/>
<rect x="65.4" y="422.3" width="8.8" height="5.6" fill="#00ffff"/>
<rect x="75.0" y="422.3" width="8.8" height="4.4" fill="#00ffff"/>
<rect x="84.7" y="422.3" width="8.8" height="13.4" fill="#00ffff"/>
<rect x="94.3" y="422.3" width="8.8" height="18.7" fill="#00ffff"/>
<rect x="104.0" y="422.3" width="8.8" height="26.1" fill="#00ffff"/>
<rect x="113.6" y="422.3" width="8.8" height="26.1" fill="#00ffff"/>
<rect x="123.3" y="422.3" width="8.8" height="24.4" fill="#00ffff"/>
<rect x="132.9" y="422.3" width="8.8" height="21.2" fill="#00ffff"/>
<rect x="142.6" y="422.3" width="8.8" height="18.7" fill="#00ffff"/>
<rect x="152.2" y="422.3" width="8.8" height="14.6" fill="#00ffff"/>
<rect x="161.9" y="422.3" width="8.8" height="13.9" fill="#00ffff"/>
<rect x="171.5" y="422.3" width="8.8" height="9.7" fill="#00ffff"/>
<rect x="181.2" y="422.3" width="8.8" height="4.1" fill="#00ffff"/>
<rect x="200.5" y="419.1" width="8.8" height="3.2" fill="#00ffff"/>
<rect x="210.1" y="415.2" width="8.8" height="7.1" fill="#00ffff"/>
<rect x="219.8" y="413.7" width="8.8" height="8.6" fill="#00ffff"/>
<rect x="229.4" y="418.1" width="8.8" height="4.2" fill="#00ffff"/>
<rect x="239.1" y="419.2" width="8.8" height="3.1" fill="#00ffff"/>
<rect x="248.7" y="421.0" width="8.8" height="1.3" fill="#00ffff"/>
<rect x="258.3" y="422.3" width="8.8" height="16.6" fill="#00ffff"/>
<rect x="268.0" y="422.3" width="8.8" height="20.2" fill="#00ffff"/>
<rect x="277.6" y="422.3" width="8.8" height="19.7" fill="#00ffff"/>
<rect x="287.3" y="422.3" width="8.8" height="23.2" fill="#00ffff"/>
<rect x="296.9" y="422.3" width="8.8" height="22.2" fill="#00ffff"/>
<rect x="306.6" y="422.3" width="8.8" height="16.6" fill="#00ffff"/>
<rect x="316.2" y="422.3" width="8.8" height="5.1" fill="#00ffff"/>
<rect x="335.5" y="418.9" width="8.8" height="3.4" fill="#00ffff"/>
<rect x="345.2" y="416.2" width="8.8" height="6.1" fill="#00ffff"/>
<rect x="354.8" y="404.2" width="8.8" height="18.1" fill="#00ffff"/>
<rect x="364.5" y="394.9" width="8.8" height="27.4" fill="#00ffff"/>
<rect x="374.1" y="389.6" width="8.8" height="32.7" fill="#00ffff"/>
<rect x="383.8" y="382.2" width="8.8" height="40.1" fill="#00ffff"/>
<rect x="393.4" y="383.9" width="8.8" height="38.4" fill="#00ffff"/>
<rect x="403.1" y="394.9" width="8.8" height="27.4" fill="#00ffff"/>
<rect x="412.7" y="403.0" width="8.8" height="19.3" fill="#00ffff"/>
<rect x="422.4" y="406.7" width="8.8" height="15.6" fill="#00ffff"/>
<rect x="432.0" y="404.2" width="8.8" height="18.1" fill="#00ffff"/>
<rect x="441.7" y="414.5" width="8.8" height="7.8" fill="#00ffff"/>
<rect x="451.3" y="410.1" width="8.8" height="12.2" fill="#00ffff"/>
<rect x="461.0" y="404.2" width="8.8" height="18.1" fill="#00ffff"/>
<rect x="470.6" y="398.1" width="8.8" height="24.2" fill="#00ffff"/>
<rect x="480.3" y="398.2" width="8.8" height="24.1" fill="#00ffff"/>
<rect x="489.9" y="397.1" width="8.8" height="25.2" fill="#00ffff"/>
<rect x="499.5" y="404.0" width="8.8" height="18.3" fill="#00ffff"/>
<rect x="509.2" y="410.6" width="8.8" height="11.7" fill="#00ffff"/>
<rect x="518.8" y="418.4" width="8.8" height="3.9" fill="#00ffff"/>
<rect x="528.5" y="419.1" width="8.8" height="3.2" fill="#00ffff"/>
<rect x="538.1" y="419.8" width="8.8" height="2.5" fill="#00ffff"/>
<rect x="547.8" y="422.3" width="8.8" height="10.7" fill="#00ffff"/>
<rect x="557.4" y="422.3" width="8.8" height="17.1" fill="#00ffff"/>
<rect x="567.1" y="422.3" width="8.8" height="19.5" fill="#00ffff"/>
<rect x="576.7" y="422.3" width="8.8" height="24.4" fill="#00ffff"/>
<rect x="586.4" y="422.3" width="8.8" height="24.9" fill="#00ffff"/>
<rect x="596.0" y="422.3" width="8.8" height="30.3" fill="#00ffff"/>
<rect x="605.7" y="422.3" width="8.8" height="28.1" fill="#00ffff"/>
<rect x="615.3" y="422.3" width="8.8" height="26.8" fill="#00ffff"/>
<rect x="625.0" y="422.3" width="8.8" height="24.9" fill="#00ffff"/>
<rect x="634.6" y="422.3" width="8.8" height="21.2" fill="#00ffff"/>
<rect x="644.3" y="422.3" width="8.8" height="17.1" fill="#00ffff"/>
<rect x="653.9" y="422.3" width="8.8" height="10.7" fill="#00ffff"/>
<rect x="663.6" y="422.3" width="8.8" height="7.3" fill="#00ffff"/>
<rect x="673.2" y="422.3" width="8.8" height="1.7" fill="#00ffff"/>
<rect x="682.9" y="422.3" width="8.8" height="2.9" fill="#00ffff"/>
<rect x="692.5" y="422.3" width="8.8" height="2.9" fill="#00ffff"/>
<rect x="702.2" y="422.3" width="8.8" height="1.0" fill="#00ffff"/>
<rect x="711.8" y="414.2" width="8.8" height="8.1" fill="#00ffff"/>
<rect x="721.5" y="408.2" width="8.8" height="14.1" fill="#00ffff"/>
<rect x="731.1" y="403.6" width="8.8" height="18.7" fill="#00ffff"/>
<rect x="740.7" y="399.8" width="8.8" height="22.5" fill="#00ffff"/>
<rect x="750.4" y="401.6" width="8.8" height="20.7" fill="#00ffff"/>
<rect x="760.0" y="407.4" width="8.8" height="14.9" fill="#00ffff"/>
<rect x="769.7" y="416.3" width="8.8" height="6.0" fill="#00ffff"/>
<rect x="779.3" y="416.3" width="8.8" height="6.0" fill="#00ffff"/>
<rect x="789.0" y="411.2" width="8.8" height="11.1" fill="#00ffff"/>
<rect x="798.6" y="402.8" width="8.8" height="19.5" fill="#00ffff"/>
<rect x="808.3" y="396.5" width="8.8" height="25.8" fill="#00ffff"/>
<rect x="817.9" y="397.3" width="8.8" height="25.0" fill="#00ffff"/>
<rect x="827.6" y="395.2" width="8.8" height="27.1" fill="#00ffff"/>
<rect x="837.2" y="381.8" width="8.8" height="40.5" fill="#00ffff"/>
<rect x="846.9" y="389.6" width="8.8" height="32.7" fill="#00ffff"/>
<rect x="856.5" y="393.4" width="8.8" height="28.9" fill="#00ffff"/>
<rect x="866.2" y="396.5" width="8.8" height="25.8" fill="#00ffff"/>
<rect x="875.8" y="404.1" width="8.8" height="18.2" fill="#00ffff"/>
<rect x="885.5" y="417.3" width="8.8" height="5.0" fill="#00ffff"/>
<rect x="895.1" y="418.1" width="8.8" height="4.2" fill="#00ffff"/>
<rect x="904.8" y="414.8" width="8.8" height="7.5" fill="#00ffff"/>
<rect x="914.4" y="410.0" width="8.8" height="12.3" fill="#00ffff"/>
<polyline points="6.8,399.1 19.5,394.9 31.7,391.7 43.9,389.8 58.6,389.8 73.2,391.3 83.0,393.0 97.7,400.3 109.9,406.4 122.1,413.7 134.3,419.8 146.5,425.4 158.7,429.6 170.9,432.8 183.1,433.7 195.3,434.0 207.5,432.8 219.7,430.8 231.9,428.8 244.1,427.9 252.2,428.4 264.4,434.0 276.6,440.1 288.8,445.5 305.9,453.5 320.6,455.5 332.8,454.3 347.4,452.8 362.1,445.0 376.7,434.0 391.4,421.8 406.0,412.0 423.1,404.7 440.2,398.6 454.8,394.9 469.5,387.6 484.1,379.1 494.6,373.9 509.3,369.1 523.9,366.6 538.6,366.1 553.2,369.1 567.9,375.2 582.5,383.7 597.2,394.0 611.8,403.2 626.5,411.8 641.1,418.4 650.9,422.3 665.5,425.2 680.2,425.9 694.8,426.9 709.5,425.7 732.7,415.5 745.4,408.7 758.1,405.4 770.8,403.6 791.1,399.5 803.8,394.0 816.5,383.8 831.7,376.2 847.0,362.2 862.2,352.1 877.4,344.4 892.7,341.9 907.9,340.1 918.8,336.8" fill="none" stroke="#00a800" stroke-width="1.1" stroke-dasharray="3,1.2,1,1.2"/>
<polyline points="6.8,376.4 11.0,376.4 20.8,383.7 29.3,380.3 39.1,380.3 48.8,385.6 58.6,389.3 69.6,396.6 78.1,396.6 87.9,407.6 97.7,418.6 105.0,429.6 114.7,435.7 124.5,440.1 134.3,441.8 144.0,443.7 153.8,443.0 166.0,445.4 175.8,442.5 185.5,437.6 195.3,432.8 205.1,428.4 214.8,424.0 224.6,421.5 234.4,425.9 240.0,425.0 252.2,426.7 262.0,447.4 271.7,457.2 281.5,462.1 291.3,468.2 301.0,471.8 310.8,468.2 323.0,457.2 332.8,453.5 347.4,446.9 359.6,430.3 374.3,408.4 386.5,387.6 397.5,379.1 415.8,388.3 425.5,389.6 435.3,382.0 445.1,390.8 454.8,383.5 464.6,373.0 474.4,360.8 494.6,349.5 511.7,355.1 522.7,362.5 541.0,363.7 550.8,378.8 563.0,391.0 572.8,398.4 582.5,408.1 592.3,416.7 599.6,424.0 611.8,430.1 626.5,435.5 638.7,437.9 650.9,435.5 665.5,430.6 677.8,427.2 685.1,429.6 699.7,429.6 711.9,424.7 720.0,414.3 730.2,404.1 744.1,390.1 754.3,385.8 765.7,390.1 774.6,396.0 783.5,394.5 793.6,386.3 803.8,374.9 812.7,361.5 821.6,356.4 830.5,350.3 840.6,327.9 850.8,327.4 860.9,324.1 871.1,321.6 880.0,325.4 890.1,337.6 897.8,336.8 909.2,332.5 918.8,324.6" fill="none" stroke="#b80808" stroke-width="1.2"/>
</g>
<rect x="5.8" y="290" width="965.9" height="204" fill="none" stroke="#a0a0a0" stroke-width="1.2"/>
<text x="1015.0" y="298.2" font-family='"Liberation Mono", monospace' font-size="10.6" fill="#c8c8c8" text-anchor="end" font-weight="normal" textLength="38.0" lengthAdjust="spacingAndGlyphs">100.0000</text>
<text x="1015.0" y="329.1" font-family='"Liberation Mono", monospace' font-size="10.6" fill="#c8c8c8" text-anchor="end" font-weight="normal" textLength="33.2" lengthAdjust="spacingAndGlyphs">75.0000</text>
<text x="1015.0" y="359.8" font-family='"Liberation Mono", monospace' font-size="10.6" fill="#c8c8c8" text-anchor="end" font-weight="normal" textLength="33.2" lengthAdjust="spacingAndGlyphs">50.0000</text>
<text x="1015.0" y="390.5" font-family='"Liberation Mono", monospace' font-size="10.6" fill="#c8c8c8" text-anchor="end" font-weight="normal" textLength="33.2" lengthAdjust="spacingAndGlyphs">25.0000</text>
<text x="1015.0" y="421.4" font-family='"Liberation Mono", monospace' font-size="10.6" fill="#c8c8c8" text-anchor="end" font-weight="normal" textLength="28.5" lengthAdjust="spacingAndGlyphs">0.0000</text>
<text x="1015.0" y="452.3" font-family='"Liberation Mono", monospace' font-size="10.6" fill="#c8c8c8" text-anchor="end" font-weight="normal" textLength="38.0" lengthAdjust="spacingAndGlyphs">-25.0000</text>
<text x="1015.0" y="483.0" font-family='"Liberation Mono", monospace' font-size="10.6" fill="#c8c8c8" text-anchor="end" font-weight="normal" textLength="38.0" lengthAdjust="spacingAndGlyphs">-50.0000</text>
<rect x="6.5" y="289.3" width="110.5" height="38.2" fill="#ffffff" stroke="#202020" stroke-width="0.8"/>
<text x="8.0" y="298.2" font-family='"Liberation Mono", monospace' font-size="9.6" fill="#000" text-anchor="start" font-weight="normal" textLength="72.0" lengthAdjust="spacingAndGlyphs">MACD(金 先限連続)</text>
<text x="16.0" y="307.1" font-family='"Liberation Mono", monospace' font-size="9.6" fill="#000" text-anchor="start" font-weight="normal" textLength="98.0" lengthAdjust="spacingAndGlyphs">MACD(10)(20)(C):79.5098</text>
<text x="16.0" y="316.0" font-family='"Liberation Mono", monospace' font-size="9.6" fill="#000" text-anchor="start" font-weight="normal" textLength="85.0" lengthAdjust="spacingAndGlyphs">シグナル(10):69.0785</text>
<text x="16.0" y="326.2" font-family='"Liberation Mono", monospace' font-size="9.6" fill="#000" text-anchor="start" font-weight="normal" textLength="94.0" lengthAdjust="spacingAndGlyphs">MACDオシレータ:10.4313</text>
<line x1="7" y1="303.5" x2="14.5" y2="303.5" stroke="#ff2020" stroke-width="1.5"/>
<line x1="7" y1="312.4" x2="14.5" y2="312.4" stroke="#20e020" stroke-width="1.5" stroke-dasharray="2,1"/>
<rect x="7" y="321.6" width="7.8" height="4.6" fill="#00ffff"/>
<path d="M101.5,298.5 l5,-8 l5,8 z" fill="none" stroke="#404040" stroke-width="1"/><path d="M109.5,298.5 l6,-8 M109.5,290.5 l6,8" fill="none" stroke="#404040" stroke-width="1"/>
<rect x="5.5" y="494.3" width="1013" height="4.7" fill="url(#sep)"/>
<rect x="5.5" y="498.8" width="1013" height="40" fill="#1c1c1c"/>
<rect x="6" y="498.8" width="965.5" height="39.2" fill="#000"/>
<line x1="6" y1="508.1" x2="971" y2="508.1" stroke="#5a5a5a" stroke-width="1.1" stroke-dasharray="3,0.5"/>
<line x1="133.0" y1="498.8" x2="133.0" y2="538" stroke="#5a5a5a" stroke-width="1.1" stroke-dasharray="3,0.5"/>
<line x1="344.6" y1="498.8" x2="344.6" y2="538" stroke="#5a5a5a" stroke-width="1.1" stroke-dasharray="3,0.5"/>
<line x1="527.8" y1="498.8" x2="527.8" y2="538" stroke="#5a5a5a" stroke-width="1.1" stroke-dasharray="3,0.5"/>
<line x1="710.8" y1="498.8" x2="710.8" y2="538" stroke="#5a5a5a" stroke-width="1.1" stroke-dasharray="3,0.5"/>
<rect x="7.6" y="530.0" width="8.6" height="7.8" fill="#00ffff"/>
<rect x="17.2" y="530.0" width="8.6" height="7.8" fill="#00ffff"/>
<rect x="26.9" y="530.0" width="8.6" height="7.8" fill="#00ffff"/>
<rect x="36.5" y="530.0" width="8.6" height="7.8" fill="#00ffff"/>
<rect x="46.2" y="530.0" width="8.6" height="7.8" fill="#00ffff"/>
<rect x="55.8" y="530.0" width="8.6" height="7.8" fill="#00ffff"/>
<rect x="65.5" y="530.0" width="8.6" height="7.8" fill="#00ffff"/>
<rect x="75.1" y="530.0" width="8.6" height="7.8" fill="#00ffff"/>
<rect x="84.8" y="530.0" width="8.6" height="7.8" fill="#00ffff"/>
<rect x="94.4" y="530.0" width="8.6" height="7.8" fill="#00ffff"/>
<rect x="104.1" y="530.0" width="8.6" height="7.8" fill="#00ffff"/>
<rect x="113.7" y="530.0" width="8.6" height="7.8" fill="#00ffff"/>
<rect x="123.4" y="530.0" width="8.6" height="7.8" fill="#00ffff"/>
<rect x="133.0" y="530.0" width="8.6" height="7.8" fill="#00ffff"/>
<rect x="142.7" y="530.0" width="8.6" height="7.8" fill="#00ffff"/>
<rect x="152.3" y="529.9" width="8.6" height="7.9" fill="#00ffff"/>
<rect x="162.0" y="532.1" width="8.6" height="5.7" fill="#00ffff"/>
<rect x="171.6" y="534.0" width="8.6" height="3.8" fill="#00ffff"/>
<rect x="181.3" y="532.1" width="8.6" height="5.7" fill="#00ffff"/>
<rect x="190.9" y="533.0" width="8.6" height="4.8" fill="#00ffff"/>
<rect x="200.6" y="531.3" width="8.6" height="6.5" fill="#00ffff"/>
<rect x="210.2" y="534.0" width="8.6" height="3.8" fill="#00ffff"/>
<rect x="219.9" y="529.1" width="8.6" height="8.7" fill="#00ffff"/>
<rect x="229.5" y="529.9" width="8.6" height="7.9" fill="#00ffff"/>
<rect x="239.2" y="529.1" width="8.6" height="8.7" fill="#00ffff"/>
<rect x="248.8" y="532.1" width="8.6" height="5.7" fill="#00ffff"/>
<rect x="258.4" y="520.7" width="8.6" height="17.1" fill="#00ffff"/>
<rect x="268.1" y="528.5" width="8.6" height="9.3" fill="#00ffff"/>
<rect x="277.7" y="533.0" width="8.6" height="4.8" fill="#00ffff"/>
<rect x="287.4" y="529.9" width="8.6" height="7.9" fill="#00ffff"/>
<rect x="297.0" y="535.0" width="8.6" height="2.8" fill="#00ffff"/>
<rect x="306.7" y="535.6" width="8.6" height="2.2" fill="#00ffff"/>
<rect x="316.3" y="529.1" width="8.6" height="8.7" fill="#00ffff"/>
<rect x="326.0" y="533.0" width="8.6" height="4.8" fill="#00ffff"/>
<rect x="335.6" y="534.0" width="8.6" height="3.8" fill="#00ffff"/>
<rect x="345.3" y="526.8" width="8.6" height="11.0" fill="#00ffff"/>
<rect x="354.9" y="526.0" width="8.6" height="11.8" fill="#00ffff"/>
<rect x="364.6" y="529.9" width="8.6" height="7.9" fill="#00ffff"/>
<rect x="374.2" y="529.9" width="8.6" height="7.9" fill="#00ffff"/>
<rect x="383.9" y="529.9" width="8.6" height="7.9" fill="#00ffff"/>
<rect x="393.5" y="529.9" width="8.6" height="7.9" fill="#00ffff"/>
<rect x="403.2" y="526.0" width="8.6" height="11.8" fill="#00ffff"/>
<rect x="412.8" y="529.9" width="8.6" height="7.9" fill="#00ffff"/>
<rect x="422.5" y="533.2" width="8.6" height="4.6" fill="#00ffff"/>
<rect x="432.1" y="525.4" width="8.6" height="12.4" fill="#00ffff"/>
<rect x="441.8" y="526.0" width="8.6" height="11.8" fill="#00ffff"/>
<rect x="451.4" y="527.6" width="8.6" height="10.2" fill="#00ffff"/>
<rect x="461.1" y="528.7" width="8.6" height="9.1" fill="#00ffff"/>
<rect x="470.7" y="530.7" width="8.6" height="7.1" fill="#00ffff"/>
<rect x="480.4" y="532.6" width="8.6" height="5.2" fill="#00ffff"/>
<rect x="490.0" y="531.5" width="8.6" height="6.3" fill="#00ffff"/>
<rect x="499.6" y="530.7" width="8.6" height="7.1" fill="#00ffff"/>
<rect x="509.3" y="529.9" width="8.6" height="7.9" fill="#00ffff"/>
<rect x="518.9" y="531.7" width="8.6" height="6.1" fill="#00ffff"/>
<rect x="528.6" y="528.7" width="8.6" height="9.1" fill="#00ffff"/>
<rect x="538.2" y="526.8" width="8.6" height="11.0" fill="#00ffff"/>
<rect x="547.9" y="516.8" width="8.6" height="21.0" fill="#00ffff"/>
<rect x="557.5" y="519.6" width="8.6" height="18.2" fill="#00ffff"/>
<rect x="567.2" y="530.7" width="8.6" height="7.1" fill="#00ffff"/>
<rect x="576.8" y="529.3" width="8.6" height="8.5" fill="#00ffff"/>
<rect x="586.5" y="531.7" width="8.6" height="6.1" fill="#00ffff"/>
<rect x="596.1" y="528.7" width="8.6" height="9.1" fill="#00ffff"/>
<rect x="605.8" y="529.9" width="8.6" height="7.9" fill="#00ffff"/>
<rect x="615.4" y="531.7" width="8.6" height="6.1" fill="#00ffff"/>
<rect x="625.1" y="527.6" width="8.6" height="10.2" fill="#00ffff"/>
<rect x="634.7" y="530.7" width="8.6" height="7.1" fill="#00ffff"/>
<rect x="644.4" y="531.7" width="8.6" height="6.1" fill="#00ffff"/>
<rect x="654.0" y="529.3" width="8.6" height="8.5" fill="#00ffff"/>
<rect x="663.7" y="534.0" width="8.6" height="3.8" fill="#00ffff"/>
<rect x="673.3" y="530.7" width="8.6" height="7.1" fill="#00ffff"/>
<rect x="683.0" y="526.0" width="8.6" height="11.8" fill="#00ffff"/>
<rect x="692.6" y="531.7" width="8.6" height="6.1" fill="#00ffff"/>
<rect x="702.3" y="533.2" width="8.6" height="4.6" fill="#00ffff"/>
<rect x="711.9" y="528.7" width="8.6" height="9.1" fill="#00ffff"/>
<rect x="721.6" y="530.7" width="8.6" height="7.1" fill="#00ffff"/>
<rect x="731.2" y="531.7" width="8.6" height="6.1" fill="#00ffff"/>
<rect x="740.8" y="532.6" width="8.6" height="5.2" fill="#00ffff"/>
<rect x="750.5" y="533.2" width="8.6" height="4.6" fill="#00ffff"/>
<rect x="760.1" y="528.7" width="8.6" height="9.1" fill="#00ffff"/>
<rect x="769.8" y="531.7" width="8.6" height="6.1" fill="#00ffff"/>
<rect x="779.4" y="529.2" width="8.6" height="8.6" fill="#00ffff"/>
<rect x="789.1" y="524.7" width="8.6" height="13.1" fill="#00ffff"/>
<rect x="798.7" y="524.1" width="8.6" height="13.7" fill="#00ffff"/>
<rect x="808.4" y="528.6" width="8.6" height="9.2" fill="#00ffff"/>
<rect x="818.0" y="524.1" width="8.6" height="13.7" fill="#00ffff"/>
<rect x="827.7" y="528.0" width="8.6" height="9.8" fill="#00ffff"/>
<rect x="837.3" y="523.0" width="8.6" height="14.8" fill="#00ffff"/>
<rect x="847.0" y="524.1" width="8.6" height="13.7" fill="#00ffff"/>
<rect x="856.6" y="529.2" width="8.6" height="8.6" fill="#00ffff"/>
<rect x="866.3" y="530.2" width="8.6" height="7.6" fill="#00ffff"/>
<rect x="875.9" y="529.2" width="8.6" height="8.6" fill="#00ffff"/>
<rect x="885.6" y="530.2" width="8.6" height="7.6" fill="#00ffff"/>
<rect x="895.2" y="531.7" width="8.6" height="6.1" fill="#00ffff"/>
<rect x="904.9" y="531.7" width="8.6" height="6.1" fill="#00ffff"/>
<rect x="914.5" y="533.3" width="8.6" height="4.5" fill="#00ffff"/>
<rect x="5.8" y="498.8" width="965.9" height="39.4" fill="none" stroke="#a0a0a0" stroke-width="1.2"/>
<text x="977.0" y="506.0" font-family='"Liberation Mono", monospace' font-size="10.6" fill="#c8c8c8" text-anchor="start" font-weight="normal" textLength="29.0" lengthAdjust="spacingAndGlyphs">100000</text>
<text x="1002.5" y="535.8" font-family='"Liberation Mono", monospace' font-size="10.6" fill="#c8c8c8" text-anchor="start" font-weight="normal" textLength="5.0" lengthAdjust="spacingAndGlyphs">0</text>
<rect x="6.8" y="499.2" width="152.3" height="39" fill="#ffffff" stroke="#202020" stroke-width="1.2"/>
<text x="8.0" y="507.6" font-family='"Liberation Mono", monospace' font-size="9.6" fill="#000" text-anchor="start" font-weight="normal" textLength="80.0" lengthAdjust="spacingAndGlyphs">出来高(金 先限連続)</text>
<text x="16.0" y="517.2" font-family='"Liberation Mono", monospace' font-size="9.6" fill="#000" text-anchor="start" font-weight="normal" textLength="51.0" lengthAdjust="spacingAndGlyphs">出来高:16440</text>
<text x="16.0" y="526.2" font-family='"Liberation Mono", monospace' font-size="9.6" fill="#000" text-anchor="start" font-weight="normal" textLength="119.0" lengthAdjust="spacingAndGlyphs">出来高移動平均(9)(SMA):30929</text>
<text x="16.0" y="535.4" font-family='"Liberation Mono", monospace' font-size="9.6" fill="#000" text-anchor="start" font-weight="normal" textLength="141.0" lengthAdjust="spacingAndGlyphs">Slow出来高移動平均(26)(SMA):30524</text>
<rect x="7.3" y="512.6" width="7.7" height="4.4" fill="#00ffff"/>
<line x1="7.5" y1="522.1" x2="15" y2="522.1" stroke="#20e020" stroke-width="1.5"/>
<line x1="7.5" y1="531.6" x2="15" y2="531.6" stroke="#ffa0ff" stroke-width="1.5" stroke-dasharray="2,1"/>
<path d="M144.0,507.0 l5,-8 l5,8 z" fill="none" stroke="#404040" stroke-width="1"/><path d="M152.0,507.0 l6,-8 M152.0,499.0 l6,8" fill="none" stroke="#404040" stroke-width="1"/>
<rect x="5.5" y="538" width="1013" height="1.3" fill="#2c2c2c"/>
<rect x="0" y="539.3" width="1024" height="5.7" fill="#c4c4c4"/>
<rect x="0" y="544" width="1024" height="1" fill="#e0e0e0"/>
<rect x="1018.3" y="20" width="3.2" height="525" fill="#c4c4c4"/>
<rect x="1021.5" y="0" width="1" height="545" fill="#b0b0b8"/>
<rect x="1022.5" y="0" width="1.5" height="545" fill="#e8e8e8"/>
<rect x="0" y="0" width="1.5" height="545" fill="#a0a0a0"/>
<rect x="1.5" y="20" width="4.3" height="525" fill="#c4c4c4"/>
</svg></body></html>
